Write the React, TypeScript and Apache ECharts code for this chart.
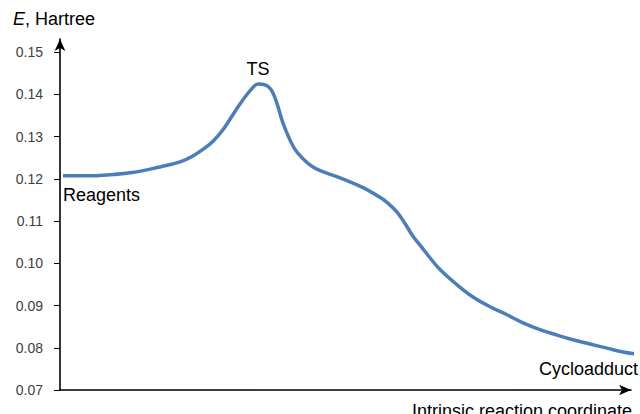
import React, { useEffect, useRef } from "react";
import * as echarts from "echarts";

// Reaction coordinate (arbitrary units, 0..100) and energy (Hartree)
const coordValues: number[] = [
  0.53, 3.5, 7.01, 12.26, 17.51, 21.02, 23.29, 25.39, 26.8, 28.37, 29.77, 31.52, 33.27,
  34.68, 35.9, 37.3, 39.05, 40.28, 41.51, 44.31, 49.04, 53.06, 56.04, 57.44, 59.02, 60.42,
  61.82, 63.4, 64.8, 66.55, 69.53, 72.33, 75.31, 78.28, 81.09, 84.06, 87.04, 89.84, 92.82,
  95.8, 98.6, 101.05,
];
const energyValues: number[] = [
  0.1207, 0.1207, 0.1208, 0.1214, 0.1228, 0.124, 0.1254, 0.1273, 0.1289, 0.1313, 0.1341, 0.1377, 0.1408,
  0.1424, 0.1422, 0.1403, 0.1332, 0.1292, 0.1263, 0.1228, 0.1202, 0.1179, 0.1156, 0.1142, 0.1121, 0.1094,
  0.1064, 0.1037, 0.1013, 0.0985, 0.0949, 0.092, 0.0897, 0.0878, 0.0859, 0.0843, 0.083, 0.0819, 0.0809,
  0.0799, 0.079, 0.0785,
];
const yTickValues: number[] = [0.07, 0.08, 0.09, 0.1, 0.11, 0.12, 0.13, 0.14, 0.15];

const yAxisTitle = "E";
const yAxisTitleRest = ", Hartree";
const xAxisTitle = "Intrinsic reaction coordinate";
const annotations = { start: "Reagents", ts: "TS", end: "Cycloadduct" };

const FONT = "'Liberation Sans', Arial, sans-serif";

export default function App() {
  const ref = useRef<HTMLDivElement>(null);

  useEffect(() => {
    if (!ref.current) return;
    const chart = echarts.init(ref.current, undefined, { renderer: "svg" });
    const data = coordValues.map((x, i) => [x, energyValues[i]]);
    chart.setOption({
      animation: false,
      backgroundColor: "#ffffff",
      grid: { left: 60, right: 9, top: 39, bottom: 24, containLabel: false },
      xAxis: {
        type: "value",
        min: 0,
        max: 100,
        axisLine: {
          show: true,
          lineStyle: { color: "#000", width: 1.6 },
          symbol: ["none", "arrow"],
          symbolSize: [8, 12],
        },
        axisTick: { show: false },
        axisLabel: { show: false },
        splitLine: { show: false },
      },
      yAxis: {
        type: "value",
        min: 0.07,
        max: 0.15308,
        axisLine: {
          show: true,
          lineStyle: { color: "#000", width: 1.6 },
          symbol: ["none", "arrow"],
          symbolSize: [8, 12],
        },
        axisTick: {
          show: true,
          length: 6,
          inside: false,
          customValues: yTickValues,
          lineStyle: { color: "#000", width: 1 },
        },
        axisLabel: {
          show: true,
          customValues: yTickValues,
          formatter: (v: number) => v.toFixed(2),
          fontFamily: FONT,
          fontSize: 14,
          color: "#404040",
          margin: 17,
        },
        splitLine: { show: false },
      },
      series: [
        {
          type: "line",
          data,
          smooth: 0.4,
          showSymbol: false,
          clip: false,
          lineStyle: { color: "#4A7EBB", width: 3.5 },
        },
      ],
      graphic: [
        {
          type: "text",
          left: 13,
          top: 10,
          style: {
            text: `{i|${yAxisTitle}}{n|${yAxisTitleRest}}`,
            rich: {
              i: { fontStyle: "italic", fontSize: 18, fontFamily: FONT, fill: "#000" },
              n: { fontSize: 18, fontFamily: FONT, fill: "#000" },
            },
            fill: "#000",
          },
        },
        {
          type: "text",
          x: 258,
          y: 69,
          style: {
            text: annotations.ts,
            fontSize: 18,
            fontFamily: FONT,
            fill: "#000",
            align: "center",
            verticalAlign: "middle",
          },
        },
        {
          type: "text",
          x: 63,
          y: 195,
          style: {
            text: annotations.start,
            fontSize: 18,
            fontFamily: FONT,
            fill: "#000",
            align: "left",
            verticalAlign: "middle",
          },
        },
        {
          type: "text",
          x: 638,
          y: 369,
          style: {
            text: annotations.end,
            fontSize: 18,
            fontFamily: FONT,
            fill: "#000",
            align: "right",
            verticalAlign: "middle",
          },
        },
        {
          type: "text",
          x: 412,
          y: 411,
          style: {
            text: xAxisTitle,
            fontSize: 18,
            fontFamily: FONT,
            fill: "#000",
            align: "left",
            verticalAlign: "middle",
          },
        },
      ],
    });
    return () => chart.dispose();
  }, []);

  return (
    <div
      ref={ref}
      style={{ position: "fixed", left: 0, top: 0, width: 640, height: 414, background: "#fff" }}
    />
  );
}
